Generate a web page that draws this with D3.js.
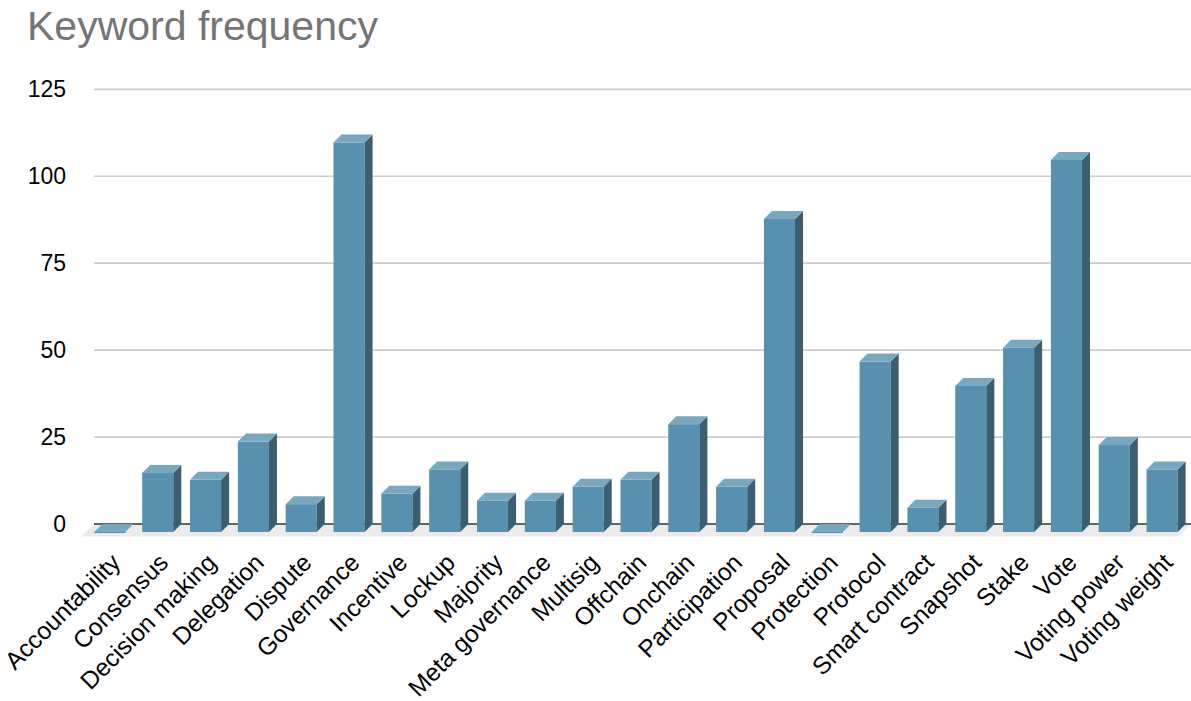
<!DOCTYPE html>
<html>
<head>
<meta charset="utf-8">
<script src="https://cdn.jsdelivr.net/npm/d3@7"></script>
<style>
  body { margin: 0; background: #fff; }
  svg { display: block; font-family: Arial, "Liberation Sans", sans-serif; }
</style>
</head>
<body>
<div class="chart"></div>
<script>
// data
var categories = ["Accountability", "Consensus", "Decision making", "Delegation", "Dispute",
  "Governance", "Incentive", "Lockup", "Majority", "Meta governance", "Multisig", "Offchain",
  "Onchain", "Participation", "Proposal", "Protection", "Protocol", "Smart contract",
  "Snapshot", "Stake", "Vote", "Voting power", "Voting weight"];
var counts = [0, 17, 15, 26, 8, 112, 11, 18, 9, 9, 13, 15, 31, 13, 90, 0, 49, 7, 42, 53, 107, 25, 18];
var yTicks = [0, 25, 50, 75, 100, 125];
var title = "Keyword frequency";

var w = 1191, h = 701;
var depth = 8;   // 3d offset of bars
var floorDepth = 12.5;

var svg = d3.select(".chart").append("svg").attr("width", w).attr("height", h);

// scales are for the back wall; front faces are shifted by depth
var x = d3.scaleBand().domain(categories).range([86, 1186]).paddingInner(0.35).paddingOuter(0.175);
var y = d3.scaleLinear().domain([0, 125]).range([524, 89.3]);

svg.append("text")
   .attr("x", 27).attr("y", 40)
   .attr("font-size", 41).attr("fill", "#757575")
   .text(title);

// floor
var x0 = 94, x1 = 1191;
svg.append("polygon")
   .attr("points", [[x0, y(0)], [x1, y(0)], [x1 - floorDepth, y(0) + floorDepth], [x0 - floorDepth, y(0) + floorDepth]].join(" "))
   .attr("fill", "#ebebeb");

// grid
svg.selectAll("line.grid")
   .data(yTicks.filter(function(d){ return d > 0; }))
   .enter()
   .append("line")
   .attr("class", "grid")
   .attr("x1", x0).attr("x2", x1)
   .attr("y1", function(d){ return y(d); })
   .attr("y2", function(d){ return y(d); })
   .attr("stroke", "#cccccc").attr("stroke-width", 1.7);

svg.append("line")
   .attr("x1", x0).attr("x2", x1)
   .attr("y1", y(0)).attr("y2", y(0))
   .attr("stroke", "#333").attr("stroke-width", 1.5);

svg.selectAll("text.tick")
   .data(yTicks)
   .enter()
   .append("text")
   .attr("class", "tick")
   .attr("x", 66)
   .attr("y", function(d){ return y(d); })
   .attr("dy", "0.35em")
   .attr("text-anchor", "end")
   .attr("font-size", 23)
   .attr("fill", "#000")
   .text(function(d){ return d; });

// bars
var bw = x.bandwidth();
var bars = svg.selectAll("g.bar")
   .data(categories.map(function(c, i){ return { name: c, value: counts[i] }; }))
   .enter()
   .append("g")
   .attr("class", "bar");

function frontLeft(d) { return x(d.name); }
function frontTop(d) { return y(d.value) + depth; }
var base = y(0) + depth;

bars.append("rect")
   .attr("x", frontLeft)
   .attr("y", frontTop)
   .attr("width", bw)
   .attr("height", function(d){ return Math.max(base - frontTop(d), 1); })
   .attr("fill", "#5791af");

bars.append("polygon")
   .attr("points", function(d){
     var l = frontLeft(d), t = frontTop(d);
     return [[l + bw, t], [l + bw + depth, t - depth], [l + bw + depth, base - depth], [l + bw, base]].join(" ");
   })
   .attr("fill", "#3b5e70");

bars.append("polygon")
   .attr("points", function(d){
     var l = frontLeft(d), t = frontTop(d);
     return [[l, t], [l + depth, t - depth], [l + bw + depth, t - depth], [l + bw, t]].join(" ");
   })
   .attr("fill", "#78a8c0");

// category labels
svg.selectAll("text.cat")
   .data(categories)
   .enter()
   .append("text")
   .attr("class", "cat")
   .attr("text-anchor", "end")
   .attr("font-size", 24.5)
   .attr("fill", "#000")
   .attr("transform", function(d){
     var cx = x(d) + bw / 2 + 12;
     return "translate(" + cx + ",564) rotate(-45)";
   })
   .text(function(d){ return d; });
</script>
</body>
</html>
